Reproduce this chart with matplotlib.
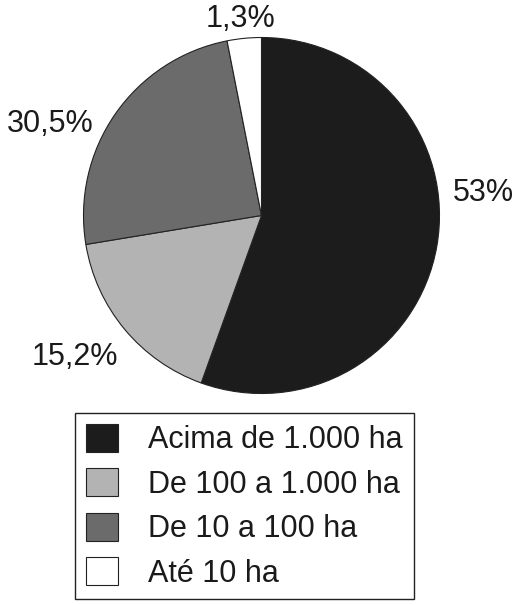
import matplotlib.pyplot as plt

plt.rcParams['font.family'] = ['Liberation Sans', 'DejaVu Sans']

categories = ['Acima de 1.000 ha', 'De 100 a 1.000 ha', 'De 10 a 100 ha', 'Até 10 ha']
pct_labels = ['53%', '15,2%', '30,5%', '1,3%']
# wedge sizes as drawn in the original figure (they don't quite match the printed labels)
drawn_share = [55.5, 16.9, 24.5, 3.1]
colors = ['#1c1c1c', '#b3b3b3', '#6b6b6b', '#ffffff']

# label anchor positions (pixels, from top-left)
label_pos = [(483, 193), (75, 357), (50, 124), (241, 19)]

W, H = 520, 605
fig = plt.figure(figsize=(W / 100, H / 100), dpi=100)
ax = fig.add_axes([0, 0, 1, 1])

cx, cy, r = 261.5, 215.5, 178
wedges, _ = ax.pie(drawn_share, colors=colors, startangle=90, counterclock=False,
                   center=(cx, H - cy), radius=r, normalize=True,
                   wedgeprops=dict(edgecolor='#222222', linewidth=0.8))

# pie() resets the limits, so set them afterwards
ax.set_xlim(0, W)
ax.set_ylim(0, H)
ax.set_aspect('equal')
ax.axis('off')

for txt, (px, py) in zip(pct_labels, label_pos):
    ax.text(px, H - py, txt, fontsize=22, ha='center', va='center', color='#1a1a1a')

leg = ax.legend(wedges, categories, loc='upper left',
                bbox_to_anchor=(75 / W, 1 - 413 / H), bbox_transform=fig.transFigure,
                fontsize=22, frameon=True, fancybox=False, edgecolor='#222222',
                framealpha=1, handlelength=1.05, handleheight=1.05, handletextpad=1.0,
                labelspacing=0.42, borderpad=0.35, borderaxespad=0)
leg.get_frame().set_linewidth(1.0)
for t in leg.get_texts():
    t.set_color('#1a1a1a')

fig.savefig('out.png', dpi=100)
